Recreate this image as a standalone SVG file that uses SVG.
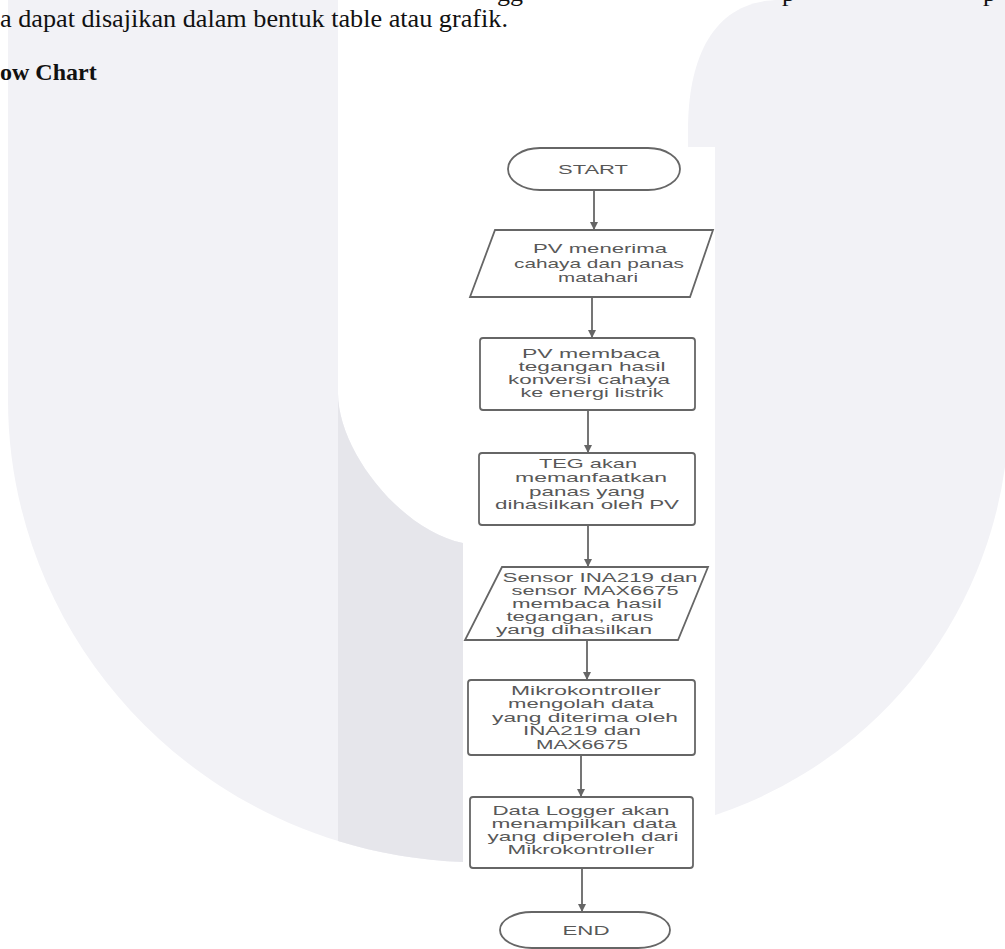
<svg xmlns="http://www.w3.org/2000/svg" width="1005" height="949" viewBox="0 0 1005 949">
<style>
.wm{fill:#f2f2f6}
.wmd{fill:#e6e6eb}
.pg{font-family:"Liberation Serif","Times New Roman",serif;fill:#111}
.sh{fill:#fff;stroke:#666;stroke-width:1.8}
.tx{font-family:"Liberation Sans",Arial,sans-serif;font-size:13.5px;fill:#585858;text-anchor:middle}
.ts{font-size:12.5px}
.cn{stroke:#666;stroke-width:1.8;fill:none;marker-end:url(#ah)}
</style>
<defs>
<marker id="ah" viewBox="0 0 10 10" refX="10" refY="5" markerWidth="8" markerHeight="8" markerUnits="userSpaceOnUse" orient="auto">
<path d="M0,0 L10,5 L0,10 Z" fill="#666"/>
</marker>
<clipPath id="cr"><rect x="338" y="0" width="125" height="949"/></clipPath>
</defs>
<rect width="1005" height="949" fill="#fff"/>
<g id="watermark">
<path id="wmL" class="wm" d="M8,0 H338 V393 C338,450 400,530 463,543 V862 C200,852 8,640 8,400 Z"/>
<path class="wmd" clip-path="url(#cr)" d="M8,0 H338 V393 C338,450 400,530 463,543 V862 C200,852 8,640 8,400 Z"/>
<path id="wmR" class="wm" d="M688,823 V130 C688,55 715,0 780,0 H1005 V467 A429,429 0 0 1 688,823 Z"/>
</g>
<g id="page-text">
<text class="pg" x="497" y="0.5" font-size="26">gg</text>
<text class="pg" x="782" y="0.5" font-size="26">p</text>
<text class="pg" x="983" y="0.5" font-size="26">p</text>
<text class="pg" x="0" y="27" font-size="26" textLength="508" lengthAdjust="spacingAndGlyphs">a dapat disajikan dalam bentuk table atau grafik.</text>
<text class="pg" x="0" y="80" font-size="24" font-weight="bold">ow Chart</text>
</g>
<rect id="diagram-bg" x="463" y="147" width="252" height="802" fill="#fff"/>
<g id="connectors">
<line class="cn" x1="594" y1="190" x2="594" y2="230"/>
<line class="cn" x1="592" y1="297" x2="592" y2="338"/>
<line class="cn" x1="588" y1="410" x2="588" y2="453"/>
<line class="cn" x1="588" y1="525" x2="588" y2="567"/>
<line class="cn" x1="587" y1="640" x2="587" y2="680"/>
<line class="cn" x1="581" y1="755" x2="581" y2="797"/>
<line class="cn" x1="582" y1="868" x2="582" y2="912"/>
</g>
<g id="start">
<rect class="sh" x="508" y="148" width="172" height="42" rx="32" ry="21"/>
<text class="tx" x="593" y="174" textLength="70" lengthAdjust="spacingAndGlyphs">START</text>
</g>
<g id="pv-menerima">
<polygon class="sh" points="495,230 713,230 690,297 470,297"/>
<text class="tx" x="600" y="253" textLength="134" lengthAdjust="spacingAndGlyphs">PV menerima</text>
<text class="tx" x="599" y="268" textLength="170" lengthAdjust="spacingAndGlyphs">cahaya dan panas</text>
<text class="tx" x="598" y="282" textLength="80" lengthAdjust="spacingAndGlyphs">matahari</text>
</g>
<g id="pv-membaca">
<rect class="sh" x="480" y="338" width="215" height="72" rx="3"/>
<text class="tx" x="591" y="358" textLength="138" lengthAdjust="spacingAndGlyphs">PV membaca</text>
<text class="tx" x="592" y="371" textLength="147" lengthAdjust="spacingAndGlyphs">tegangan hasil</text>
<text class="tx" x="589" y="384" textLength="162" lengthAdjust="spacingAndGlyphs">konversi cahaya</text>
<text class="tx" x="592" y="397" textLength="143" lengthAdjust="spacingAndGlyphs">ke energi listrik</text>
</g>
<g id="teg">
<rect class="sh" x="479" y="453" width="216" height="72" rx="3"/>
<text class="tx" x="588" y="468" textLength="98" lengthAdjust="spacingAndGlyphs">TEG akan</text>
<text class="tx" x="591" y="482" textLength="152" lengthAdjust="spacingAndGlyphs">memanfaatkan</text>
<text class="tx" x="587" y="496" textLength="116" lengthAdjust="spacingAndGlyphs">panas yang</text>
<text class="tx" x="587" y="509" textLength="184" lengthAdjust="spacingAndGlyphs">dihasilkan oleh PV</text>
</g>
<g id="sensor">
<polygon class="sh" points="502,567 708,567 678,640 465,640"/>
<text class="tx ts" x="600" y="582" textLength="195" lengthAdjust="spacingAndGlyphs">Sensor INA219 dan</text>
<text class="tx ts" x="595" y="595" textLength="167" lengthAdjust="spacingAndGlyphs">sensor MAX6675</text>
<text class="tx ts" x="587" y="608" textLength="150" lengthAdjust="spacingAndGlyphs">membaca hasil</text>
<text class="tx ts" x="580" y="621" textLength="147" lengthAdjust="spacingAndGlyphs">tegangan, arus</text>
<text class="tx ts" x="574" y="634" textLength="156" lengthAdjust="spacingAndGlyphs">yang dihasilkan</text>
</g>
<g id="mikrokontroller">
<rect class="sh" x="468" y="680" width="227" height="75" rx="3"/>
<text class="tx" x="586" y="695" textLength="150" lengthAdjust="spacingAndGlyphs">Mikrokontroller</text>
<text class="tx" x="581" y="708" textLength="146" lengthAdjust="spacingAndGlyphs">mengolah data</text>
<text class="tx" x="585" y="722" textLength="186" lengthAdjust="spacingAndGlyphs">yang diterima oleh</text>
<text class="tx" x="582" y="735" textLength="118" lengthAdjust="spacingAndGlyphs">INA219 dan</text>
<text class="tx" x="582" y="749" textLength="92" lengthAdjust="spacingAndGlyphs">MAX6675</text>
</g>
<g id="data-logger">
<rect class="sh" x="470" y="797" width="223" height="71" rx="3"/>
<text class="tx" x="581" y="815" textLength="177" lengthAdjust="spacingAndGlyphs">Data Logger akan</text>
<text class="tx" x="584" y="828" textLength="185" lengthAdjust="spacingAndGlyphs">menampilkan data</text>
<text class="tx" x="583" y="841" textLength="191" lengthAdjust="spacingAndGlyphs">yang diperoleh dari</text>
<text class="tx" x="581" y="854" textLength="147" lengthAdjust="spacingAndGlyphs">Mikrokontroller</text>
</g>
<g id="end">
<rect class="sh" x="500" y="912" width="170" height="36" rx="32" ry="18"/>
<text class="tx" x="586" y="935" textLength="47" lengthAdjust="spacingAndGlyphs">END</text>
</g>
</svg>
